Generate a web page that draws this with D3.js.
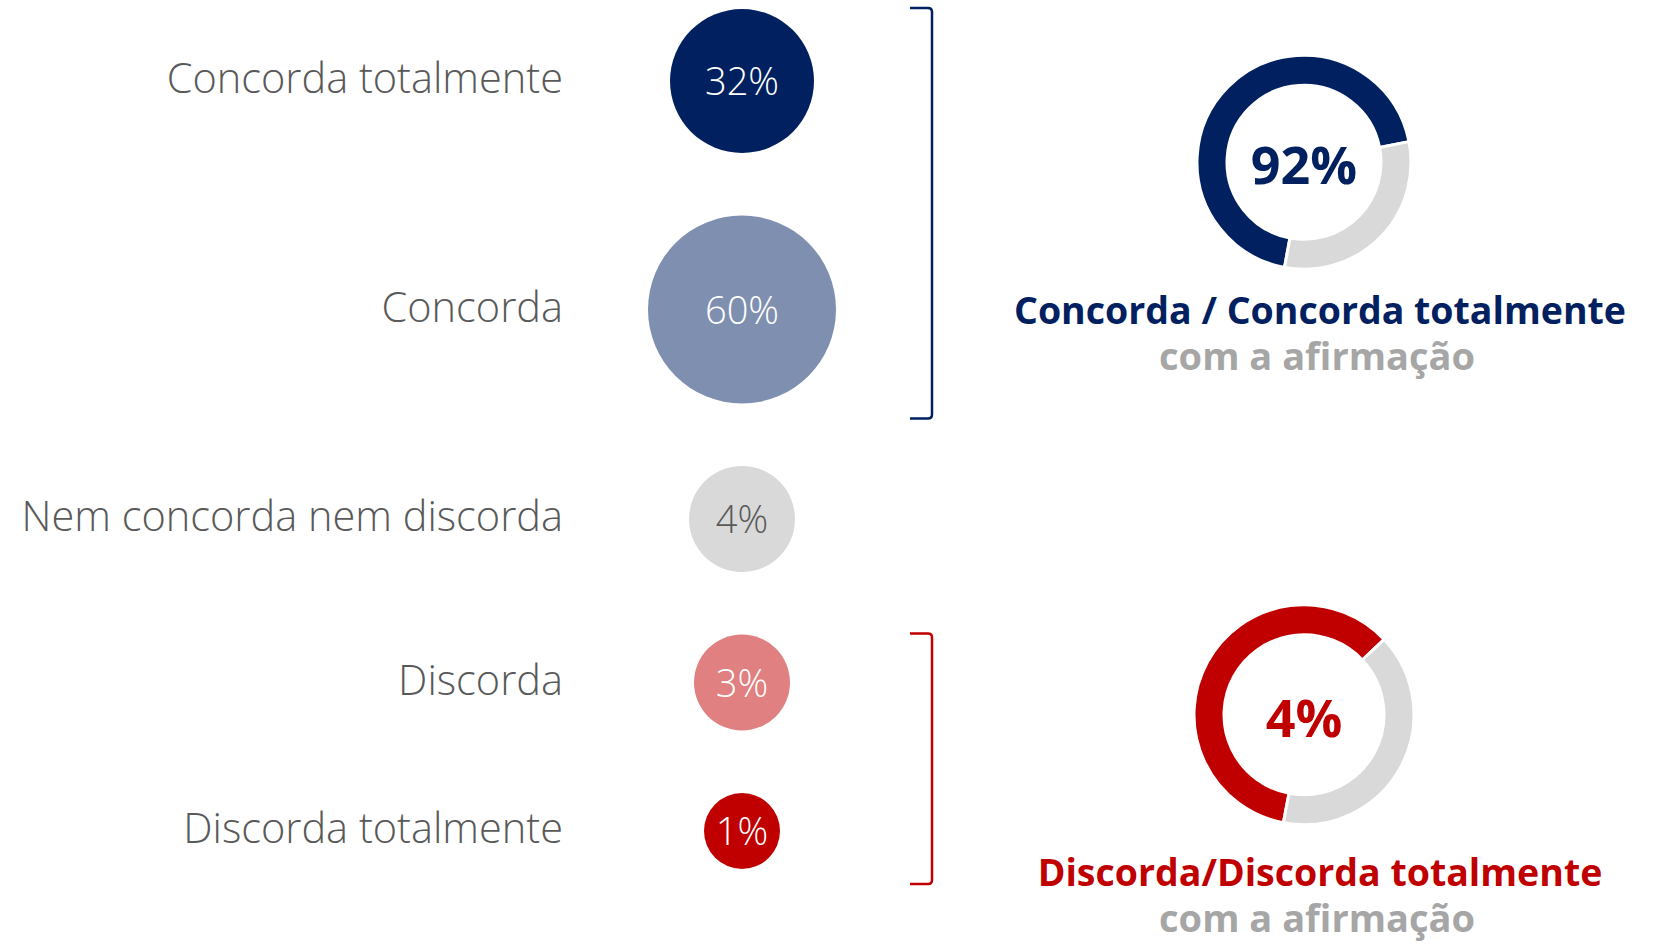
<!DOCTYPE html>
<html>
<head>
<meta charset="utf-8">
<script src="https://cdn.jsdelivr.net/npm/d3@7"></script>
<style>
  body { margin: 0; background: #fff; }
  text { font-family: "Open Sans", "Lato", sans-serif; }
</style>
</head>
<body>
<script>
// answer categories, top to bottom
var categories = ["Concorda totalmente", "Concorda", "Nem concorda nem discorda", "Discorda", "Discorda totalmente"];
var values = [32, 60, 4, 3, 1];
var fills = ["#002060", "#7f8fb0", "#d9d9d9", "#e08080", "#c00000"];
var valueColors = ["#ffffff", "#ffffff", "#595959", "#ffffff", "#ffffff"];

// groups on the right (bracket + donut)
var groupTitles = ["Concorda / Concorda totalmente", "Discorda/Discorda totalmente"];
var groupSubtitle = "com a afirmação";
var groupTotals = [92, 4];
var groupFirst = [0, 3];
var groupLast = [1, 4];
var groupColors = ["#002060", "#c00000"];
var ringShares = [[69, 31], [60, 40]];   // share of the ring in colour / grey
var ringStartDeg = [190.5, 190.8];

var width = 1653, height = 945;

var svg = d3.select("body").append("svg")
    .attr("width", width)
    .attr("height", height);

// bubble radius, not area-true
var r = d3.scaleLinear()
    .domain([1, 4, 32, 60])
    .range([38, 53, 72, 94]);

var cx = 742;
var gap = 62.5;
// stack the bubbles one under the other with an equal gap
var cy = [];
var yy = 9;
values.forEach(function (v, i) {
    cy.push(yy + r(v));
    yy += 2 * r(v) + gap;
});

var rows = svg.append("g").selectAll("g")
    .data(values)
    .enter().append("g");

rows.append("circle")
    .attr("cx", cx)
    .attr("cy", function (d, i) { return cy[i]; })
    .attr("r", function (d) { return r(d); })
    .attr("fill", function (d, i) { return fills[i]; });

rows.append("text")
    .attr("x", cx)
    .attr("y", function (d, i) { return cy[i] + 14; })
    .attr("text-anchor", "middle")
    .style("font-size", "38px")
    .style("font-weight", 300)
    .attr("fill", function (d, i) { return valueColors[i]; })
    .text(function (d) { return d + "%"; });

rows.append("text")
    .attr("x", 563)
    .attr("y", function (d, i) { return cy[i] + 12; })
    .attr("text-anchor", "end")
    .style("font-size", "41.5px")
    .style("font-weight", 300)
    .attr("fill", "#595959")
    .text(function (d, i) { return categories[i]; });

// brackets, donuts and titles
var bx = 932;
var pie = d3.pie().sort(null).value(function (d) { return d; });
var donutX = 1304;
var outerR = [107, 110];
var donutLift = [51, 44];
var titleDrop = [55, 61];

groupTitles.forEach(function (title, g) {
    var a = groupFirst[g], b = groupLast[g];
    var top = cy[a] - r(values[a]) - 1;
    var bottom = cy[b] + r(values[b]) + 15;

    svg.append("path")
        .attr("d", "M910," + top + "H" + (bx - 4) + "Q" + bx + "," + top + " " + bx + "," + (top + 4) +
            "V" + (bottom - 4) + "Q" + bx + "," + bottom + " " + (bx - 4) + "," + bottom + "H910")
        .attr("fill", "none")
        .attr("stroke", groupColors[g])
        .attr("stroke-width", 2.5);

    var dy = (top + bottom) / 2 - donutLift[g];
    var R = outerR[g];
    var start = ringStartDeg[g] * Math.PI / 180;
    var arc = d3.arc().innerRadius(R - 30).outerRadius(R);
    var donut = svg.append("g")
        .attr("transform", "translate(" + donutX + "," + dy + ")");

    donut.selectAll("path")
        .data(pie.startAngle(start).endAngle(start + 2 * Math.PI)(ringShares[g]))
        .enter().append("path")
        .attr("d", arc)
        .attr("fill", function (d, i) { return i == 0 ? groupColors[g] : "#d9d9d9"; })
        .attr("stroke", "#fff")
        .attr("stroke-width", 3);

    donut.append("text")
        .attr("y", 22)
        .attr("text-anchor", "middle")
        .style("font-size", "52px")
        .style("font-weight", 700)
        .attr("fill", groupColors[g])
        .text(groupTotals[g] + "%");

    // title and subtitle as two lines of one text block
    var ty = dy + R + titleDrop[g];
    var block = svg.append("text")
        .attr("text-anchor", "middle")
        .style("font-weight", 700);
    block.append("tspan")
        .attr("x", 1320)
        .attr("y", ty)
        .style("font-size", "37.5px")
        .attr("fill", groupColors[g])
        .text(title);
    block.append("tspan")
        .attr("x", 1317)
        .attr("y", ty + 46)
        .style("font-size", "38px")
        .attr("fill", "#a6a6a6")
        .text(groupSubtitle);
});
</script>
</body>
</html>
